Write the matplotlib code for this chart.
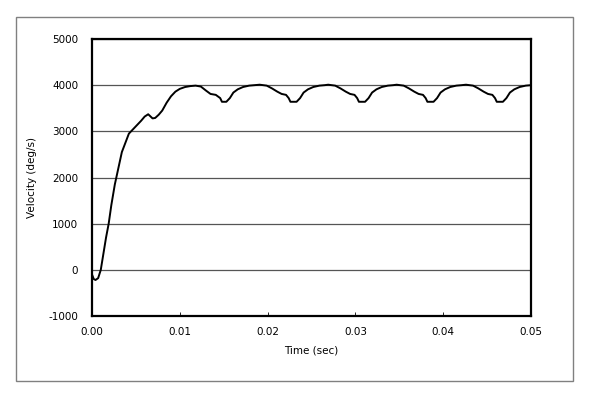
import matplotlib
matplotlib.use("Agg")
import matplotlib.pyplot as plt
from matplotlib.patches import Rectangle

time_s = [0.0000, 0.0002, 0.0004, 0.0007, 0.0010, 0.0013, 0.0016, 0.0019, 0.0022, 0.0026,
          0.0030, 0.0034, 0.0038, 0.0042, 0.0047, 0.0052, 0.0056, 0.0060, 0.0064, 0.0069,
          0.0072, 0.0076, 0.0080, 0.0085, 0.0090, 0.0095, 0.0100, 0.0106, 0.0112, 0.0118,
          0.0124, 0.0130, 0.0135, 0.0141, 0.0146, 0.0148, 0.0153, 0.0157, 0.0161, 0.0166,
          0.0172, 0.0179, 0.0185, 0.0191,
          0.0199, 0.0205, 0.0211, 0.0216, 0.0221, 0.0224, 0.0226, 0.0233, 0.0237, 0.0241,
          0.0246, 0.0252, 0.0259, 0.0265, 0.0269,
          0.0277, 0.0283, 0.0289, 0.0294, 0.0299, 0.0302, 0.0304, 0.0311, 0.0315, 0.0319,
          0.0324, 0.0330, 0.0337, 0.0343, 0.0347,
          0.0355, 0.0361, 0.0367, 0.0372, 0.0377, 0.0380, 0.0382, 0.0389, 0.0393, 0.0397,
          0.0402, 0.0408, 0.0415, 0.0421, 0.0426,
          0.0434, 0.0440, 0.0446, 0.0451, 0.0456, 0.0459, 0.0461, 0.0468, 0.0472, 0.0476,
          0.0481, 0.0487, 0.0494, 0.0500]
velocity = [-100, -200, -220, -180, 0, 350, 700, 1000, 1400, 1850,
            2200, 2550, 2750, 2950, 3050, 3150, 3230, 3320, 3370, 3280,
            3290, 3360, 3450, 3620, 3760, 3860, 3920, 3960, 3980, 3990,
            3970, 3880, 3810, 3790, 3720, 3640, 3640, 3720, 3840, 3910,
            3960, 3990, 4000, 4010,
            3990, 3930, 3860, 3810, 3790, 3720, 3640, 3640, 3720, 3840,
            3910, 3960, 3990, 4000, 4010,
            3990, 3930, 3860, 3810, 3790, 3720, 3640, 3640, 3720, 3840,
            3910, 3960, 3990, 4000, 4010,
            3990, 3930, 3860, 3810, 3790, 3720, 3640, 3640, 3720, 3840,
            3910, 3960, 3990, 4000, 4010,
            3990, 3930, 3860, 3810, 3790, 3720, 3640, 3640, 3720, 3840,
            3910, 3960, 3990, 4000]

x_ticks = [0.00, 0.01, 0.02, 0.03, 0.04, 0.05]
x_tick_labels = ["0.00", "0.01", "0.02", "0.03", "0.04", "0.05"]
y_ticks = [-1000, 0, 1000, 2000, 3000, 4000, 5000]
y_tick_labels = ["-1000", "0", "1000", "2000", "3000", "4000", "5000"]

plt.rcParams['font.family'] = ['DejaVu Sans']
fig = plt.figure(figsize=(5.91, 3.96), dpi=100)
fig.patch.set_facecolor("white")

# outer chart frame
fig.patches.append(Rectangle((16/591, 1-381/396), (573-16)/591, (381-17)/396,
                             transform=fig.transFigure, fill=False,
                             edgecolor="#808080", linewidth=1.0))

ax = fig.add_axes([92/591, 1-316/396, (531-92)/591, (316-39)/396])
ax.plot(time_s, velocity, color="black", linewidth=1.4, solid_joinstyle="round")
ax.set_xlim(0, 0.05)
ax.set_ylim(-1000, 5000)
ax.set_xticks(x_ticks)
ax.set_xticklabels(x_tick_labels)
ax.set_yticks(y_ticks)
ax.set_yticklabels(y_tick_labels)
ax.yaxis.grid(True, color="#555555", linewidth=0.9)
ax.set_axisbelow(True)
ax.tick_params(axis="x", direction="in", length=3, width=0.6, labelsize=7.5, pad=8)
ax.tick_params(axis="y", length=0, labelsize=7.5, pad=10)
for s in ax.spines.values():
    s.set_linewidth(1.6)
    s.set_color("black")
ax.set_xlabel("Time (sec)", fontsize=7.5, labelpad=6)
ax.set_ylabel("Velocity (deg/s)", fontsize=7.5, labelpad=8)

fig.savefig("out.png", dpi=100, facecolor="white")
